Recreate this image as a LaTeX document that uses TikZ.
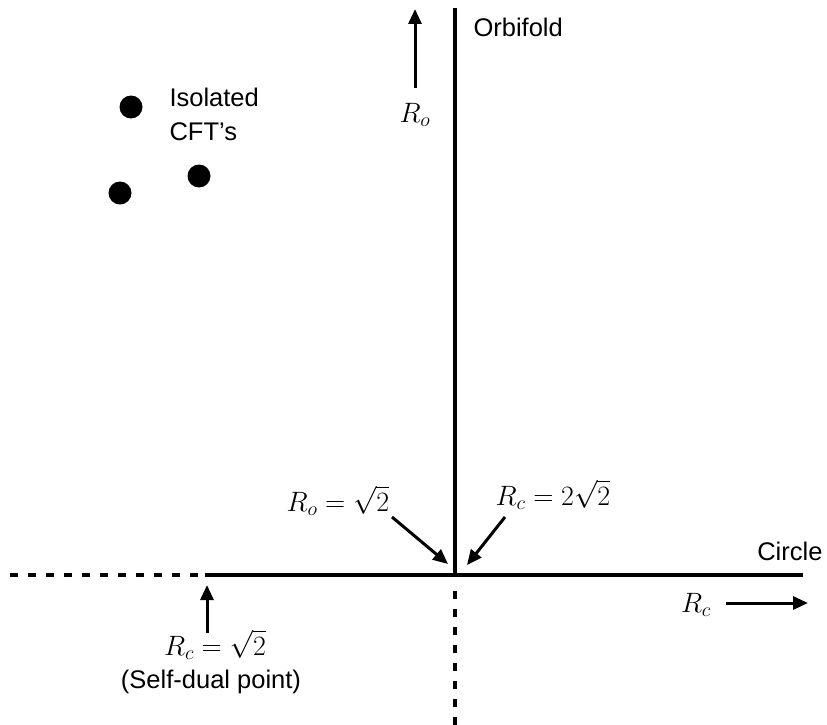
\RequirePackage{fix-cm}
\documentclass[tikz,border=0pt]{standalone}
\usepackage{fontspec}
\setmainfont{Liberation Sans}
\usepackage{amsmath}
\DeclareMathSizes{25.5}{28}{20}{15}
\usetikzlibrary{arrows.meta,positioning}

\begin{document}
\begin{tikzpicture}[
  x=1pt, y=-1pt,
  font=\fontsize{25.5}{34}\selectfont,
  axis/.style={line width=4pt},
  cutaxis/.style={line width=4pt, dash pattern=on 8pt off 10pt},
  pointer/.style={-{Triangle[length=15pt,width=13pt]}, line width=3pt},
  cft/.style={circle, fill=black, inner sep=0pt, minimum size=23pt}
]
  \useasboundingbox (0,0) rectangle (827,725);

  % Axes of the moduli space
  \coordinate (origin) at (455,575);
  \coordinate (orbtop) at (455,8);
  \coordinate (cutstart) at (455,591);
  \coordinate (orbbot) at (455,727);
  \coordinate (selfdual) at (205,575);
  \coordinate (circleft) at (10,575);
  \coordinate (circright) at (803,575);

  \draw[axis] (orbtop) -- (origin);
  \draw[cutaxis] (cutstart) -- (orbbot);
  \draw[axis] (selfdual) -- (circright);
  \draw[cutaxis] (circleft) -- (selfdual);

  % Branch labels
  \node[anchor=base west] (orbname) at (470,37) {Orbifold};
  \node[anchor=base east] (circname) at (826,560) {Circle};

  % Direction of R_o
  \node[anchor=base] (ro) at (415,122) {$R_o$};
  \coordinate (rotip) at (415,9);
  \draw[pointer] (415,88) -- (rotip);

  % Direction of R_c
  \node[anchor=base] (rc) at (696,612) {$R_c$};
  \coordinate (rctip) at (808,603);
  \draw[pointer] (726,603) -- (rctip);

  % Isolated points
  \node[cft] (cfta) at (131,107) {};
  \node[cft] (cftb) at (199,176) {};
  \node[cft] (cftc) at (120,193) {};
  \node[anchor=base west, align=left] (cftname) at (166,140) {Isolated\\CFT's};

  % Special radii
  \node[anchor=base] (rosq) at (338,511) {$R_o=\sqrt{2}$};
  \node[anchor=base] (rcsq) at (553,505) {$R_c=2\sqrt{2}$};
  \coordinate (rosqtip) at (448,564);
  \coordinate (rcsqtip) at (467,565);
  \draw[pointer] (392,517) -- (rosqtip);
  \draw[pointer] (505,517) -- (rcsqtip);

  % Self-dual point
  \node[anchor=base] (sdval) at (215,655) {$R_c=\sqrt{2}$};
  \node[anchor=base] (sdname) at (211,688) {(Self-dual point)};
  \coordinate (sdtip) at (207,585);
  \draw[pointer] (207,633) -- (sdtip);
\end{tikzpicture}
\end{document}
